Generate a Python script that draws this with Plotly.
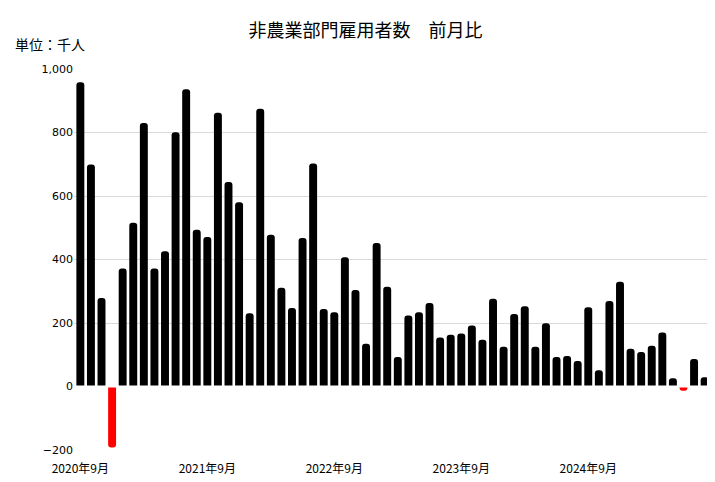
import plotly.graph_objects as go

months = []
y, m = 2020, 9
for _ in range(60):
    months.append(f"{y}年{m}月")
    m += 1
    if m > 12:
        m = 1; y += 1

values = [958, 699, 279, -192, 372, 516, 830, 372, 426, 801, 936, 494,
          471, 862, 644, 580, 231, 875, 478, 311, 247, 468, 702, 244,
          234, 407, 304, 135, 452, 314, 93, 224, 234, 263, 154, 163,
          167, 192, 147, 276, 125, 228, 253, 125, 199, 93, 96, 80,
          250, 51, 269, 330, 119, 109, 128, 170, 26, -13, 87, 29]

tick_labels = ["2020年9月", "2021年9月", "2022年9月", "2023年9月", "2024年9月"]

colors = ["#ff0000" if v < 0 else "#000000" for v in values]
x = list(range(len(values)))

fig = go.Figure(go.Bar(x=x, y=values, marker=dict(color=colors, cornerradius=4, line=dict(width=0)),
                       hovertext=months))
fig.add_hline(y=0, line=dict(color="white", width=2), layer="above")
fig.update_layout(
    width=715, height=482,
    margin=dict(l=66, r=12, t=61, b=40),
    plot_bgcolor="white", paper_bgcolor="white",
    font=dict(family="Noto Sans CJK JP", size=12, color="#000"),
    title=dict(text="非農業部門雇用者数　前月比", x=0.5, xanchor="center", y=0.965, font=dict(size=18)),
    bargap=0.25,
    showlegend=False,
    annotations=[dict(text="単位：千人", xref="paper", yref="paper", x=-0.095, y=1.035,
                      xanchor="left", yanchor="bottom", showarrow=False, font=dict(size=14))],
)
fig.update_xaxes(tickvals=[0, 12, 24, 36, 48], ticktext=tick_labels, range=[-0.6, 59.6],
                 showgrid=False, ticks="", ticklabelstandoff=10, tickfont=dict(size=12))
fig.update_yaxes(range=[-200, 1000], dtick=200, tickformat=",", gridcolor="#d9d9d9",
                 zeroline=False, tickfont=dict(family="DejaVu Sans", size=11))
fig.write_html("out.html")
